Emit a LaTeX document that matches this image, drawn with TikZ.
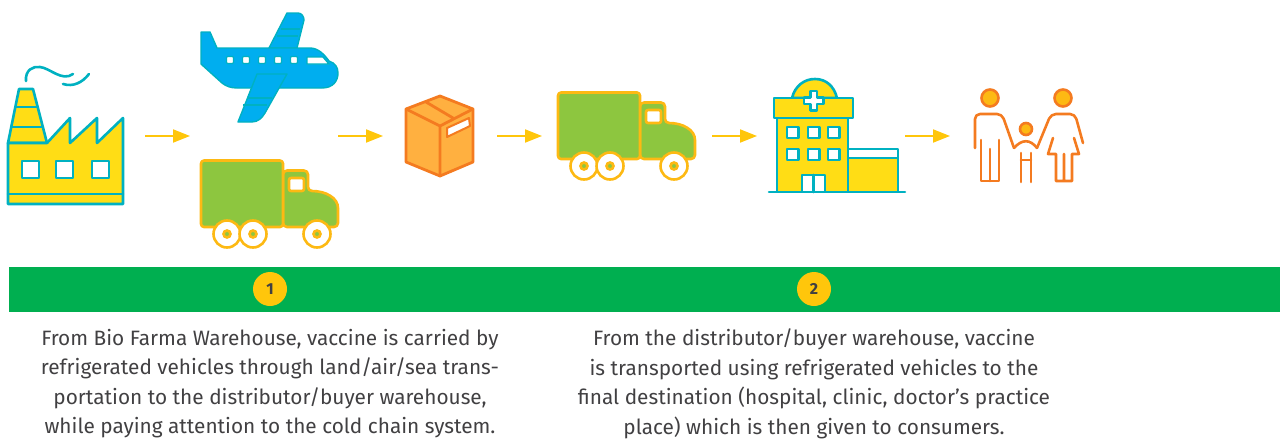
\documentclass[tikz,border=0pt]{standalone}
\usepackage{fontspec}
\setmainfont{Fira Sans}
\usetikzlibrary{arrows.meta}
\definecolor{teal1}{HTML}{00B1C1}
\definecolor{yel1}{HTML}{FFDD15}
\definecolor{sky1}{HTML}{00AEEF}
\definecolor{grn1}{HTML}{8DC63F}
\definecolor{amb1}{HTML}{FDB913}
\definecolor{org1}{HTML}{F47B20}
\definecolor{box1}{HTML}{FFB040}
\definecolor{band1}{HTML}{00AF50}
\definecolor{arr1}{HTML}{FFC60B}
\definecolor{txt1}{HTML}{414042}
\tikzset{
  teal line/.style={draw=teal1,line width=2.6pt,line join=round,line cap=round},
  yfill/.style={teal line,fill=yel1},
  win/.style={teal line,fill=white},
  planeline/.style={draw=teal1,line width=1.4pt,line join=round},
  truck/.style={draw=amb1,line width=2.6pt,fill=grn1,line join=round},
  boxline/.style={draw=org1,line width=2.8pt,line join=round,line cap=round},
  person/.style={draw=org1,line width=2.6pt,line join=round,line cap=round},
  head/.style={draw=org1,line width=2.6pt,fill=amb1,circle,inner sep=0pt},
  flow/.style={draw=arr1,line width=2pt,-{Triangle[length=17pt,width=13pt]}},
  num/.style={circle,fill=arr1,minimum size=34pt,inner sep=0pt,text=txt1,font=\fontsize{16}{18}\selectfont\bfseries},
  para/.style={align=center,text=txt1,font=\fontsize{20.8}{29.4}\selectfont,inner sep=0pt},
}
\newcommand{\trucksketch}[2]{%
\begin{scope}[shift={(#1,#2)}]
  \draw[truck,rounded corners=4pt] (283,170.5) -- (308,170.5) -- (308,191) .. controls (326,191) and (338,198) .. (338,212) -- (338,227) -- (283,227) -- cycle;
  \draw[truck,rounded corners=3pt] (201,160.5) rectangle (283,227);
  \draw[truck,fill=white,rounded corners=2pt] (289,178) rectangle (304,191);
  \foreach \cx in {227,253,317}{
    \draw[draw=amb1,line width=2.6pt,fill=white] (\cx,234) circle (13.5);
    \draw[draw=amb1,line width=2.6pt,fill=grn1] (\cx,234) circle (3.5);
  }
\end{scope}}
\begin{document}
\begin{tikzpicture}[x=1pt,y=-1pt]
\useasboundingbox (0,0) rectangle (1283,439);
% factory
\draw[yfill] (8,143) -- (19,89) -- (33,89) -- (47,143) -- cycle;
\draw[teal line] (16,107) -- (37,107) (12,127) -- (42,127);
\draw[yfill] (8,143) -- (47,143) -- (70,118) -- (70,143) -- (97,118) -- (97,143) -- (123,118) -- (123,204) -- (8,204) -- cycle;
\draw[teal line] (8,194) -- (123,194);
\draw[win] (22,161) rectangle (39,178);
\draw[win] (56,161) rectangle (73,178);
\draw[win] (92,161) rectangle (109,178);
\draw[teal line] (26,81) .. controls (25,70) and (33,66) .. (40,67) .. controls (50,68) and (62,82) .. (73,74);
\draw[teal line] (63,84) .. controls (73,87) and (82,83) .. (89,74);
% plane
\draw[planeline,fill=sky1] (269,48) -- (287,13) -- (298,13) .. controls (302,13) and (304,17) .. (304,20) -- (297,48) -- cycle;
\draw[planeline,fill=sky1] (201,32) -- (210,32) -- (217,48) -- (310,48) .. controls (318,48) and (324,54) .. (329,61) .. controls (335,63) and (338,67) .. (338,73) .. controls (338,81) and (333,88) .. (322,88) -- (237,88) .. controls (230,88) and (226,86) .. (222,83) -- (201,64) -- cycle;
\draw[planeline,fill=sky1] (257,74) -- (287,74) -- (265,113) .. controls (262,118) and (258,122) .. (252,122) -- (238,122) -- cycle;
\draw[planeline] (281,29) -- (300,29) (277,36) -- (298,36) (247,98) -- (272,98) (243,105) -- (267,105);
\foreach \wx in {230,246,262,278,294}{
  \draw[planeline,fill=white,rounded corners=1pt] (\wx-3.5,56.5) rectangle (\wx+3.5,63.5);
}
\draw[planeline,fill=white] (307,57) -- (323,57) -- (329,64) -- (307,64) -- cycle;
% trucks
\trucksketch{0}{0}
\trucksketch{357}{-68}
% box
\draw[boxline,fill=box1] (440,96) -- (473,109) -- (473,162) -- (440,176) -- (406,162) -- (406,109) -- cycle;
\draw[boxline] (406,109) -- (440,126) -- (473,109) (440,126) -- (440,176) (426,102) -- (453,118);
\draw[boxline,line width=2pt,fill=white] (447,128) -- (469,118) -- (470,126) -- (447,137) -- cycle;
% hospital
\draw[yfill] (792,98) .. controls (795,86) and (804,79) .. (815,79) .. controls (826,79) and (834,86) .. (837,98) -- cycle;
\draw[yfill] (774,98) rectangle (853,118);
\draw[yfill] (777,118) rectangle (848,192);
\draw[win] (810.5,91) -- (817,91) -- (817,97.5) -- (823.5,97.5) -- (823.5,104) -- (817,104) -- (817,110.5) -- (810.5,110.5) -- (810.5,104) -- (804,104) -- (804,97.5) -- (810.5,97.5) -- cycle;
\foreach \wx in {787,808,828}{
  \draw[win] (\wx,127) rectangle (\wx+11.5,138);
  \draw[win] (\wx,149) rectangle (\wx+11.5,160);
}
\draw[win] (802,175) rectangle (825,192);
\draw[teal line] (813.5,175) -- (813.5,192);
\draw[win] (848,149) rectangle (898,158);
\draw[yfill] (848,158) rectangle (898,192);
\draw[teal line] (769,192) -- (905,192);
% people
\node[head,minimum size=17pt] (manhead) at (990,98) {};
\node[head,minimum size=17pt] (womanhead) at (1063,98) {};
\node[head,minimum size=12pt] (childhead) at (1026,129) {};
\draw[person,rounded corners=5pt] (975,148) -- (975,114) -- (1002,114) -- (1014,148);
\draw[person] (1014,148) .. controls (1022,139) and (1030,139) .. (1037,148);
\draw[person,rounded corners=5pt] (1037,148) -- (1051,114) -- (1075,114) -- (1083,143);
\draw[person] (981,140) -- (981,181) -- (999,181) -- (999,140) (990,149) -- (990,181);
\draw[person] (1021,153) -- (1021,182) (1031,153) -- (1031,182) (1021,160) -- (1031,160);
\draw[person] (1053,138) -- (1048,154) -- (1056,154) -- (1056,181) -- (1072,181) -- (1072,154) -- (1079,154) -- (1074,138) (1064,154) -- (1064,181);
% arrows
\coordinate (a1s) at (145,136); \coordinate (a1e) at (190,136);
\coordinate (a2s) at (338,136); \coordinate (a2e) at (383,136);
\coordinate (a3s) at (497,136); \coordinate (a3e) at (542,136);
\coordinate (a4s) at (712,136); \coordinate (a4e) at (757,136);
\coordinate (a5s) at (905,136); \coordinate (a5e) at (950,136);
\draw[flow] (a1s) -- (a1e);
\draw[flow] (a2s) -- (a2e);
\draw[flow] (a3s) -- (a3e);
\draw[flow] (a4s) -- (a4e);
\draw[flow] (a5s) -- (a5e);
% band
\fill[band1] (9,267) rectangle (1280,312);
\node[num] (n1) at (270,289) {1};
\node[num] (n2) at (814,289) {2};
\node[para,anchor=north] (t1) at (270,329) {From Bio Farma Warehouse, vaccine is carried by\\refrigerated vehicles through land/air/sea trans-\\portation to the distributor/buyer warehouse,\\while paying attention to the cold chain system.};
\node[para,anchor=north] (t2) at (814,329) {From the distributor/buyer warehouse, vaccine\\is transported using refrigerated vehicles to the\\final destination (hospital, clinic, doctor’s practice\\place) which is then given to consumers.};
\end{tikzpicture}
\end{document}
